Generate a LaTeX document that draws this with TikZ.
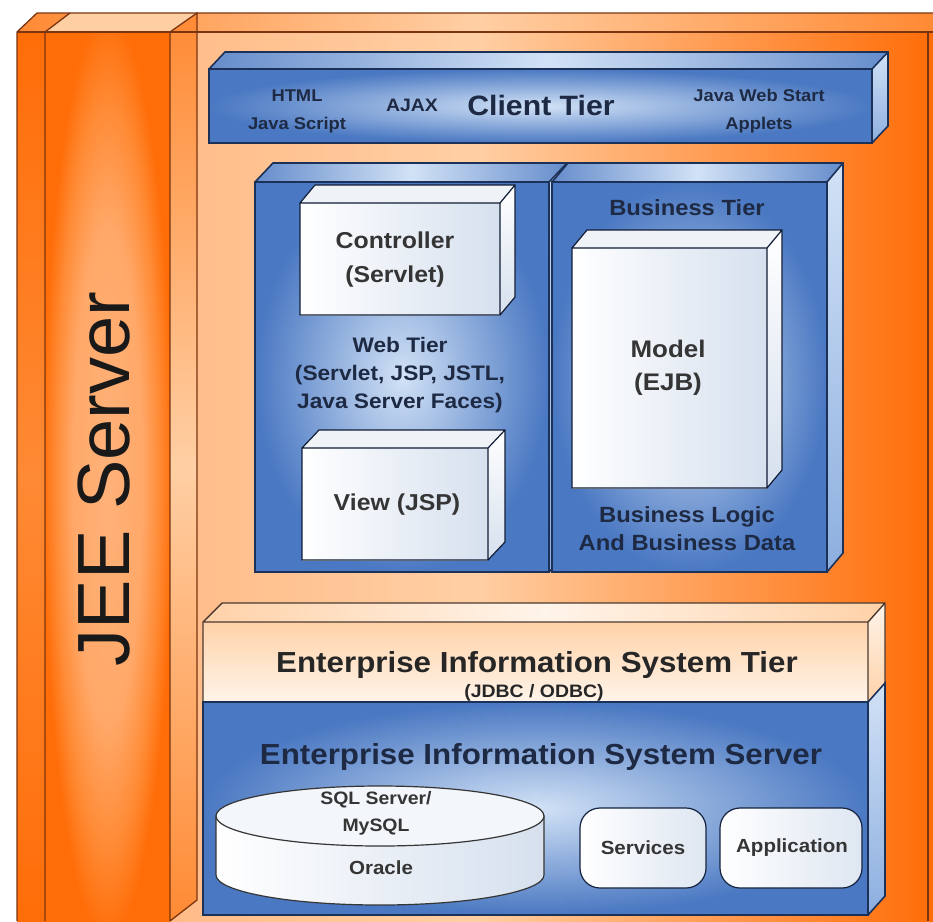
\documentclass[tikz,border=0pt]{standalone}
\usepackage{fontspec}
\setmainfont{Liberation Sans}
\newfontfamily\labf{Liberation Sans}[FakeStretch=1.08]
\definecolor{orD}{HTML}{FF6D08}
\definecolor{orM}{HTML}{FF8A34}
\definecolor{orL}{HTML}{FFB27A}
\definecolor{orP}{HTML}{FFCFA4}
\definecolor{brn}{HTML}{7A3510}
\definecolor{bluD}{HTML}{4A78C2}
\definecolor{bluL}{HTML}{D2E2F6}
\definecolor{bluS}{HTML}{9DBCE6}
\definecolor{navy}{HTML}{1C3158}
\definecolor{txtB}{HTML}{1E2A44}
\definecolor{txtG}{HTML}{353535}
\definecolor{whD}{HTML}{D6E0EE}
\definecolor{bgeL}{HTML}{FFF4EA}
\definecolor{bgeD}{HTML}{FFD2A8}
\definecolor{bgeLine}{HTML}{4A3A30}
\pgfdeclareradialshading{pillarshade}{\pgfpoint{0bp}{0bp}}{%
  color(0bp)=(orL); color(14bp)=(orL!75!orM); color(21bp)=(orM); color(26bp)=(orD); color(50bp)=(orD)}
\newcommand\cuboid[7]{%
  \path[#7front] (#1,#2) rectangle (#3,#4);
  \path[#7top] (#1,#2) -- ++(#5,-#6) -- (#3+#5,#2-#6) -- (#3,#2) -- cycle;
  \path[#7side] (#3,#2) -- (#3+#5,#2-#6) -- (#3+#5,#4-#6) -- (#3,#4) -- cycle;
  \draw[#7line] (#1,#2) rectangle (#3,#4)
     (#1,#2) -- ++(#5,-#6) -- (#3+#5,#2-#6) -- (#3+#5,#4-#6) -- (#3,#4)
     (#3,#2) -- (#3+#5,#2-#6);
}
\tikzset{
  blufront/.style={shade, inner color=bluL, outer color=bluD},
  blutop/.style={shade, left color=bluD!85!white, right color=bluD!85!white, middle color=bluL},
  bluside/.style={shade, top color=bluL, bottom color=bluS!80!bluD},
  bluline/.style={draw=navy, line width=1.6pt},
  whfront/.style={shade, left color=white, right color=whD},
  whtop/.style={fill=whD!40!white},
  whside/.style={shade, top color=white, bottom color=whD},
  whline/.style={draw=navy!60!black, line width=1.2pt},
  orline/.style={draw=brn, line width=1.3pt},
  lab/.style={align=center, inner sep=0pt, text=txtB},
  wlab/.style={align=center, inner sep=0pt, text=txtG},
  rbox/.style={draw=navy!70!black, line width=1.2pt, rounded corners=20pt, shade, left color=white, right color=whD!80!white},
}
\begin{document}
\begin{tikzpicture}[x=1pt,y=-1pt]
\useasboundingbox (0,0) rectangle (933,921);
\fill[white] (0,0) rectangle (933,921);
% big JEE box
\shade[left color=orL, right color=orD, middle color=orP] (17,32) rectangle (933,921);
\shade[left color=orM, right color=orM, middle color=orP] (17,32) -- (37,13) -- (933,13) -- (933,32) -- cycle;
\fill[orD] (928,32) rectangle (933,921);
% pillar
\shade[top color=orD, bottom color=orD, middle color=orM] (17,32) rectangle (45,921);
\shade[shading=pillarshade] (45,32) rectangle (170,921);
\shade[top color=orM, bottom color=orM, middle color=orP] (170,32) -- (197,13) -- (197,900) -- (170,921) -- cycle;
\fill[orP] (45,32) -- (70,13) -- (197,13) -- (170,32) -- cycle;
\draw[orline] (17,921) -- (17,32) -- (37,13) -- (933,13);
\draw[orline] (17,32) -- (933,32);
\draw[orline] (45,32) -- (45,921) (45,32) -- (70,13);
\draw[orline] (170,32) -- (170,921) (170,32) -- (197,13) -- (197,900) -- (170,921);
\draw[orline] (928,32) -- (928,921);
% client tier
\cuboid{209}{69}{872}{143}{16}{17}{blu}
% web tier and business tier
\cuboid{255}{182}{549}{572}{18}{19}{blu}
\cuboid{552}{182}{827}{572}{16}{19}{blu}
% white boxes
\cuboid{300}{203}{500}{315}{15}{18}{wh}
\cuboid{302}{448}{488}{560}{17}{18}{wh}
\cuboid{572}{248}{767}{488}{15}{18}{wh}
% EIS tier
\shade[top color=bgeD, bottom color=bgeL] (203,622) rectangle (868,702);
\shade[left color=bgeD, right color=bgeD, middle color=bgeL] (203,622) -- (222,603) -- (885,603) -- (868,622) -- cycle;
\shade[top color=bgeL, bottom color=bgeD] (868,622) -- (885,603) -- (885,683) -- (868,702) -- cycle;
\path[blufront] (203,702) rectangle (868,915);
\path[bluside] (868,702) -- (885,683) -- (885,896) -- (868,915) -- cycle;
\draw[draw=bgeLine, line width=1.4pt] (203,702) -- (203,622) -- (222,603) -- (885,603) -- (885,683) (203,622) -- (868,622) -- (868,702) (868,622) -- (885,603);
\draw[bluline] (203,702) rectangle (868,915) (868,702) -- (885,683) -- (885,896) -- (868,915);
% cylinder
\shade[left color=white, right color=whD, draw=txtG, line width=1.2pt]
  (216,816) -- (216,875) arc[start angle=180, end angle=360, x radius=164pt, y radius=30pt] -- (544,816) -- cycle;
\draw[fill=white!70!whD, draw=txtG, line width=1.2pt] (380,816) ellipse [x radius=164pt, y radius=30pt];
% services / application
\path[rbox] (580,808) rectangle (706,888);
\path[rbox] (720,808) rectangle (862,888);
% labels
\node[rotate=90, text=black!90, inner sep=0pt, font=\fontsize{74}{80}\selectfont] (jee) at (104,479) {JEE Server};
\node[lab, font=\labf\bfseries\fontsize{17}{28}\selectfont] (html) at (297,111) {HTML\\Java Script};
\node[lab, font=\labf\bfseries\fontsize{18}{20}\selectfont] (ajax) at (412,105) {AJAX};
\node[lab, font=\labf\bfseries\fontsize{28}{30}\selectfont] (client) at (541,105) {Client Tier};
\node[lab, font=\labf\bfseries\fontsize{17}{28}\selectfont] (jws) at (759,111) {Java Web Start\\Applets};
\node[wlab, font=\labf\bfseries\fontsize{23}{34}\selectfont] (ctrl) at (395,260) {Controller\\(Servlet)};
\node[lab, font=\labf\bfseries\fontsize{21}{28}\selectfont] (web) at (400,375) {Web Tier\\(Servlet, JSP, JSTL,\\Java Server Faces)};
\node[wlab, font=\labf\bfseries\fontsize{23}{30}\selectfont] (view) at (397,505) {View (JSP)};
\node[lab, font=\labf\bfseries\fontsize{22}{28}\selectfont] (bt) at (687,208) {Business Tier};
\node[wlab, font=\labf\bfseries\fontsize{24}{33}\selectfont] (model) at (668,368) {Model\\(EJB)};
\node[lab, font=\labf\bfseries\fontsize{22}{28}\selectfont] (bl) at (687,529) {Business Logic\\And Business Data};
\node[wlab, text=black!85, font=\labf\bfseries\fontsize{29}{30}\selectfont] (eist) at (537,665) {Enterprise Information System Tier};
\node[wlab, text=black!85, font=\labf\bfseries\fontsize{18}{20}\selectfont] (jdbc) at (534,693) {(JDBC / ODBC)};
\node[lab, font=\labf\bfseries\fontsize{29}{30}\selectfont] (eiss) at (541,757) {Enterprise Information System Server};
\node[wlab, font=\labf\bfseries\fontsize{18}{27}\selectfont] (sql) at (376,813) {SQL Server/\\MySQL};
\node[wlab, font=\labf\bfseries\fontsize{19}{22}\selectfont] (ora) at (381,868) {Oracle};
\node[wlab, font=\labf\bfseries\fontsize{19}{22}\selectfont] (serv) at (643,848) {Services};
\node[wlab, font=\labf\bfseries\fontsize{19}{22}\selectfont] (app) at (792,848) {Application};
\end{tikzpicture}
\end{document}
